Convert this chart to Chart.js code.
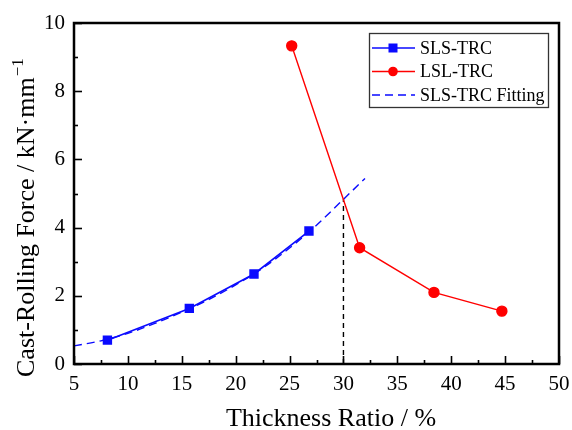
<!DOCTYPE html>
<html>
<head>
<meta charset="utf-8">
<script src="https://cdn.jsdelivr.net/npm/chart.js@4.4.0/dist/chart.umd.min.js"></script>
<style>
  body { margin: 0; background: #fff; }
  canvas { display: block; }
</style>
</head>
<body>
<canvas id="forceChart" width="572" height="430"></canvas>
<script>
// ---------------- Data ----------------
const slsRatio = [8.1, 15.7, 21.7, 26.8];
const slsForce = [0.70, 1.63, 2.64, 3.90];

const lslRatio = [25.2, 31.5, 38.4, 44.7];
const lslForce = [9.33, 3.41, 2.10, 1.55];

// fitted curve of the SLS-TRC points
const fitRatio = [5, 7.5, 10, 12.5, 15, 17.5, 20, 22.5, 25, 27.5, 30, 32];
const fitForce = [0.53, 0.68, 0.90, 1.19, 1.52, 1.89, 2.32, 2.81, 3.40, 4.07, 4.83, 5.44];

// critical ratio where fit and LSL-TRC cross
const critRatio = [30, 30];
const critForce = [0, 4.83];

const xTicks = [5, 10, 15, 20, 25, 30, 35, 40, 45, 50];
const yTicks = [0, 2, 4, 6, 8, 10];

const SERIF = '"Liberation Serif", "Times New Roman", serif';
const BLUE = "#0a0aff";
const RED = "#ff0000";

function toPoints(xs, ys) {
  return xs.map((x, i) => ({ x: x, y: ys[i] }));
}

// ---------------- Frame, inward ticks, titles ----------------
const framePlugin = {
  id: "frame",
  afterDraw(chart) {
    const { ctx, chartArea: a, scales } = chart;
    const xs = scales.x, ys = scales.y;
    ctx.save();
    ctx.strokeStyle = "#000";

    // inward ticks on bottom and left
    ctx.lineWidth = 1.6;
    const xStep = (xTicks[1] - xTicks[0]) / 2;
    for (let v = xTicks[0]; v <= xTicks[xTicks.length - 1] + 0.001; v += xStep) {
      const major = xTicks.includes(v);
      const px = Math.round(xs.getPixelForValue(v)) + 0.5;
      ctx.beginPath();
      ctx.moveTo(px, a.bottom);
      ctx.lineTo(px, a.bottom - (major ? 8 : 4));
      ctx.stroke();
    }
    const yStep = (yTicks[1] - yTicks[0]) / 2;
    for (let v = yTicks[0]; v <= yTicks[yTicks.length - 1] + 0.001; v += yStep) {
      const major = yTicks.includes(v);
      const py = Math.round(ys.getPixelForValue(v)) + 0.5;
      ctx.beginPath();
      ctx.moveTo(a.left, py);
      ctx.lineTo(a.left + (major ? 8 : 4), py);
      ctx.stroke();
    }

    ctx.lineWidth = 2.5;
    ctx.strokeRect(a.left, a.top, a.right - a.left, a.bottom - a.top);

    // axis titles
    ctx.fillStyle = "#000";
    ctx.font = "26px " + SERIF;
    ctx.textAlign = "center";
    ctx.textBaseline = "alphabetic";
    ctx.fillText("Thickness Ratio / %", 331, 426);

    ctx.translate(34, 377);
    ctx.rotate(-Math.PI / 2);
    ctx.textAlign = "left";
    const main = "Cast-Rolling Force / kN\u00b7mm";
    ctx.fillText(main, 0, 0);
    const w = ctx.measureText(main).width;
    ctx.font = "17px " + SERIF;
    ctx.fillText("\u2212" + "1", w + 1, -11);
    ctx.restore();
  }
};

// ---------------- Legend box ----------------
const legendPlugin = {
  id: "boxLegend",
  afterDraw(chart) {
    const ctx = chart.ctx;
    const box = { x: 369, y: 33, w: 179, h: 74 };
    const rows = chart.data.datasets.filter(d => d.inLegend);
    ctx.save();
    ctx.fillStyle = "#fff";
    ctx.fillRect(box.x, box.y, box.w, box.h);
    ctx.strokeStyle = "#333";
    ctx.lineWidth = 1.3;
    ctx.strokeRect(box.x + 0.5, box.y + 0.5, box.w, box.h);

    rows.forEach((ds, i) => {
      const cy = box.y + 15 + i * 23.5;
      ctx.strokeStyle = ds.borderColor;
      ctx.lineWidth = ds.borderWidth;
      ctx.setLineDash(ds.borderDash || []);
      ctx.beginPath();
      ctx.moveTo(box.x + 3, cy);
      ctx.lineTo(box.x + 46, cy);
      ctx.stroke();
      ctx.setLineDash([]);

      ctx.fillStyle = ds.borderColor;
      if (ds.pointRadius > 0) {
        const mx = box.x + 24;
        if (ds.pointStyle === "rect") {
          ctx.fillRect(mx - 4.5, cy - 4.5, 9, 9);
        } else {
          ctx.beginPath();
          ctx.arc(mx, cy, 4.8, 0, Math.PI * 2);
          ctx.fill();
        }
      }
      ctx.fillStyle = "#000";
      ctx.font = "18px " + SERIF;
      ctx.textAlign = "left";
      ctx.textBaseline = "middle";
      ctx.fillText(ds.label, box.x + 51, cy + 1);
    });
    ctx.restore();
  }
};

// ---------------- Chart ----------------
const ctx = document.getElementById("forceChart").getContext("2d");

const forceChart = new Chart(ctx, {
  type: "scatter",
  data: {
    datasets: [
      {
        label: "SLS-TRC",
        inLegend: true,
        data: toPoints(slsRatio, slsForce),
        showLine: true,
        borderColor: BLUE,
        backgroundColor: BLUE,
        borderWidth: 1.6,
        pointStyle: "rect",
        pointRadius: 5.5,
        order: 2,
      },
      {
        label: "LSL-TRC",
        inLegend: true,
        data: toPoints(lslRatio, lslForce),
        showLine: true,
        borderColor: RED,
        backgroundColor: RED,
        borderWidth: 1.4,
        pointStyle: "circle",
        pointRadius: 5,
        order: 1,
      },
      {
        label: "SLS-TRC Fitting",
        inLegend: true,
        data: toPoints(fitRatio, fitForce),
        showLine: true,
        borderColor: BLUE,
        borderWidth: 1.4,
        borderDash: [8, 5],
        pointRadius: 0,
        cubicInterpolationMode: "monotone",
        order: 3,
      },
      {
        label: "critical",
        data: toPoints(critRatio, critForce),
        showLine: true,
        borderColor: "#000",
        borderWidth: 1.4,
        borderDash: [5, 4],
        pointRadius: 0,
        order: 4,
      },
    ],
  },
  options: {
    responsive: false,
    animation: false,
    layout: { padding: { top: 23, right: 13, left: 0, bottom: 0 } },
    plugins: {
      legend: { display: false },
      tooltip: { enabled: false },
    },
    scales: {
      x: {
        type: "linear",
        min: xTicks[0],
        max: xTicks[xTicks.length - 1],
        grid: { display: false, drawTicks: false },
        border: { display: false },
        ticks: {
          stepSize: xTicks[1] - xTicks[0],
          color: "#000",
          font: { family: SERIF, size: 21 },
          padding: 8,
          maxRotation: 0,
        },
        afterFit(scale) {
          scale.height = 66;
          // let the layout padding alone decide the plot edges
          scale.paddingLeft = 0;
          scale.paddingRight = 0;
        },
      },
      y: {
        type: "linear",
        min: yTicks[0],
        max: yTicks[yTicks.length - 1],
        grid: { display: false, drawTicks: false },
        border: { display: false },
        ticks: {
          stepSize: yTicks[1] - yTicks[0],
          color: "#000",
          font: { family: SERIF, size: 21 },
          padding: 9,
        },
        afterFit(scale) {
          scale.width = 74;
          scale.paddingTop = 0;
          scale.paddingBottom = 0;
        },
      },
    },
  },
  plugins: [framePlugin, legendPlugin],
});
</script>
</body>
</html>
